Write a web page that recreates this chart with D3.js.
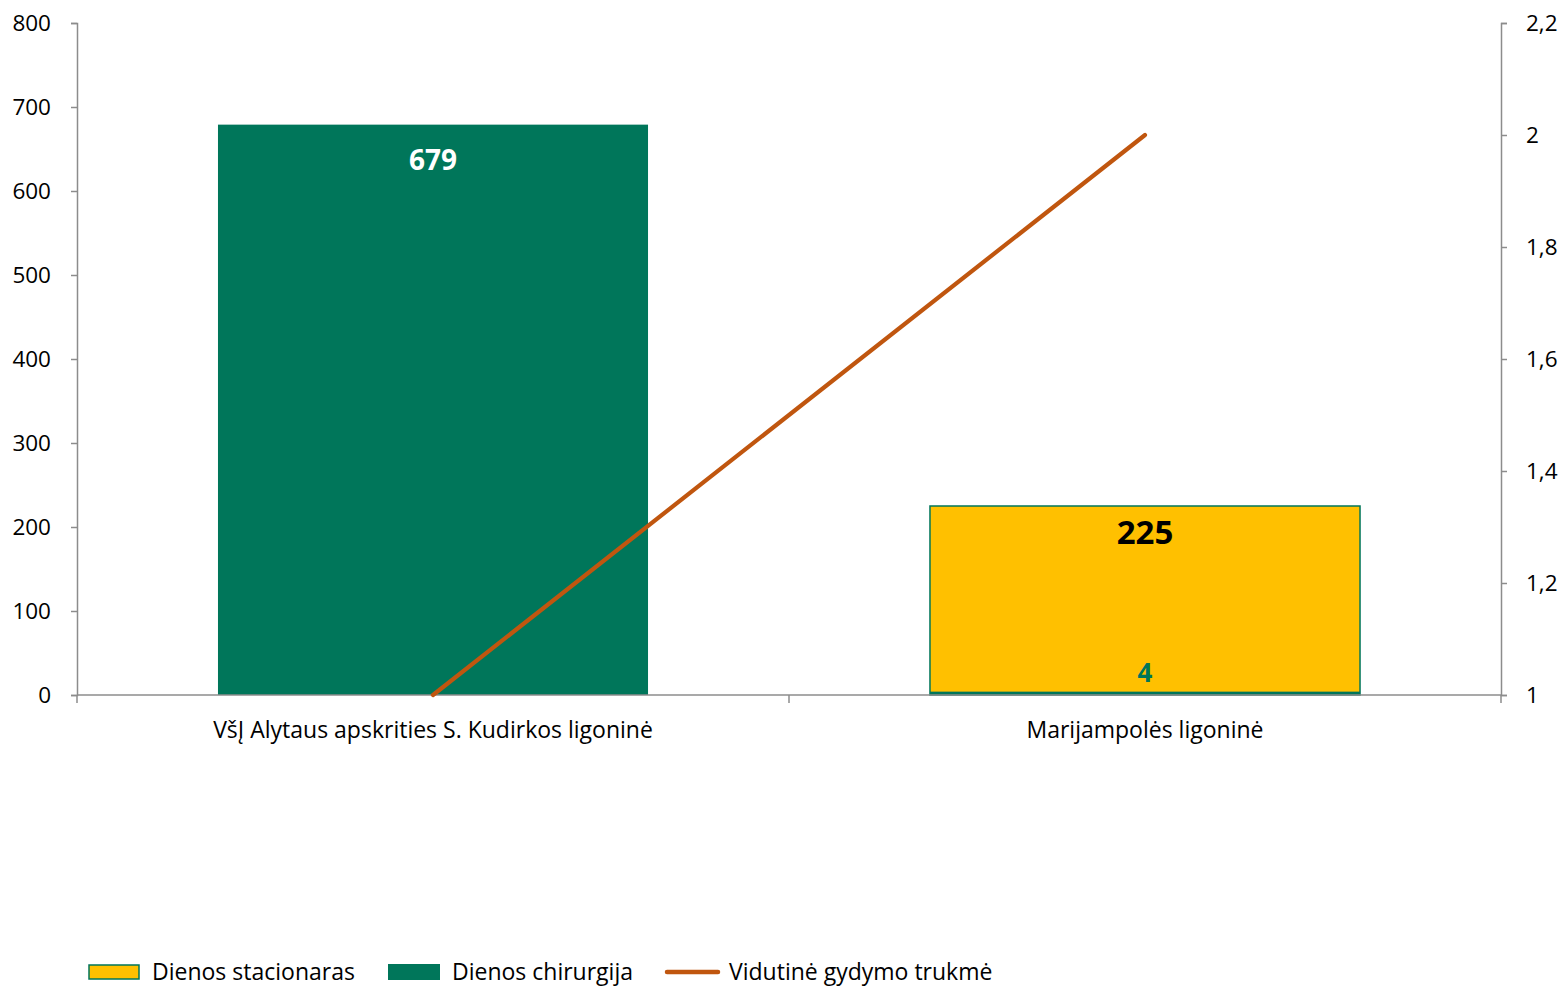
<!DOCTYPE html>
<html><head><meta charset="utf-8">
<script src="https://cdn.jsdelivr.net/npm/d3@7"></script>
<style>body{margin:0;background:#fff}text{font-family:"Open Sans",sans-serif}</style>
</head><body>
<svg id="c" width="1563" height="987"></svg>
<script>
const categories = ["VšĮ Alytaus apskrities S. Kudirkos ligoninė", "Marijampolės ligoninė"];
const stacionaras = [null, 225];
const chirurgija = [679, 4];
const trukme = [1.0, 2.0];
const leftTicks = [0,100,200,300,400,500,600,700,800];
const rightTicks = [1,1.2,1.4,1.6,1.8,2,2.2];
const seriesNames = ["Dienos stacionaras","Dienos chirurgija","Vidutinė gydymo trukmė"];

const C_Y = "#FFC000", C_G = "#00765A", C_L = "#C0560F", AX = "#8c8c8c";
const FS = "23px";
const svg = d3.select("#c");
const L = 77, R = 1501, T = 23, B = 695;
const x = d3.scaleBand().domain(categories).range([L, R]).padding(0);
const y = d3.scaleLinear().domain([0, 800]).range([B, T]);
const y2 = d3.scaleLinear().domain([1, 2.2]).range([B, T]);
const bw = x.bandwidth() * 0.604;
const bx = c => x(c) + (x.bandwidth() - bw) / 2;

// yellow bars
categories.forEach((c, i) => {
  const v = stacionaras[i];
  if (v == null) return;
  svg.append("rect").attr("x", bx(c)).attr("y", y(v)).attr("width", bw).attr("height", y(0) - y(v))
    .attr("fill", C_Y).attr("stroke", C_G).attr("stroke-width", 1.5);
});
// green bars
categories.forEach((c, i) => {
  const v = chirurgija[i];
  svg.append("rect").attr("x", bx(c)).attr("y", y(v)).attr("width", bw).attr("height", y(0) - y(v))
    .attr("fill", C_G);
});

// axes
const gl = svg.append("g").attr("transform", `translate(${L},0)`)
  .call(d3.axisLeft(y).tickValues(leftTicks).tickSize(6).tickPadding(20).tickFormat(d3.format("d")));
const gr = svg.append("g").attr("transform", `translate(${R},0)`)
  .call(d3.axisRight(y2).tickValues(rightTicks).tickSize(6).tickPadding(19).tickFormat(d => String(d).replace(".", ",")));
[gl, gr].forEach(g => {
  g.select(".domain").attr("stroke", AX).attr("stroke-width", 1.5);
  g.selectAll(".tick line").attr("stroke", AX).attr("stroke-width", 1.5);
  g.selectAll(".tick text").attr("fill", "#000").style("font-size", "22.5px").style("font-family", "Open Sans");
});
svg.append("line").attr("x1", L).attr("x2", R).attr("y1", B).attr("y2", B).attr("stroke", AX).attr("stroke-width", 1.5);
const xt = [L, (x(categories[1])), R];
xt.forEach(v => svg.append("line").attr("x1", v).attr("x2", v).attr("y1", B).attr("y2", B + 8).attr("stroke", AX).attr("stroke-width", 1.5));
categories.forEach(c => svg.append("text").attr("x", x(c) + x.bandwidth() / 2).attr("y", 738)
  .attr("text-anchor", "middle").style("font-size", FS).attr("fill", "#000").text(c));

// line
svg.append("path").datum(categories.map((c, i) => [x(c) + x.bandwidth() / 2, y2(trukme[i])]))
  .attr("d", d3.line()).attr("fill", "none").attr("stroke", C_L).attr("stroke-width", 4.2).attr("stroke-linecap", "round");

// labels
svg.append("text").attr("x", x(categories[0]) + x.bandwidth() / 2).attr("y", y(chirurgija[0]) + 45)
  .attr("text-anchor", "middle").style("font-size", "28px").style("font-weight", "bold").attr("fill", "#fff").text(chirurgija[0]);
svg.append("text").attr("x", x(categories[1]) + x.bandwidth() / 2).attr("y", y(stacionaras[1]) + 38)
  .attr("text-anchor", "middle").style("font-size", "33px").style("font-weight", "bold").attr("fill", "#000").text(stacionaras[1]);
svg.append("text").attr("x", x(categories[1]) + x.bandwidth() / 2).attr("y", 682)
  .attr("text-anchor", "middle").style("font-size", "26px").style("font-weight", "bold").attr("fill", C_G).text(chirurgija[1]);

// legend
const lg = svg.append("g");
lg.append("rect").attr("x", 89).attr("y", 965).attr("width", 50).attr("height", 14).attr("fill", C_Y).attr("stroke", C_G).attr("stroke-width", 1.5);
lg.append("text").attr("x", 152).attr("y", 980).style("font-size", FS).text(seriesNames[0]);
lg.append("rect").attr("x", 388).attr("y", 964).attr("width", 52).attr("height", 16).attr("fill", C_G);
lg.append("text").attr("x", 452).attr("y", 980).style("font-size", FS).text(seriesNames[1]);
lg.append("line").attr("x1", 667).attr("x2", 718).attr("y1", 972).attr("y2", 972).attr("stroke", C_L).attr("stroke-width", 4.5).attr("stroke-linecap", "round");
lg.append("text").attr("x", 729).attr("y", 980).style("font-size", FS).text(seriesNames[2]);
</script>
</body></html>
